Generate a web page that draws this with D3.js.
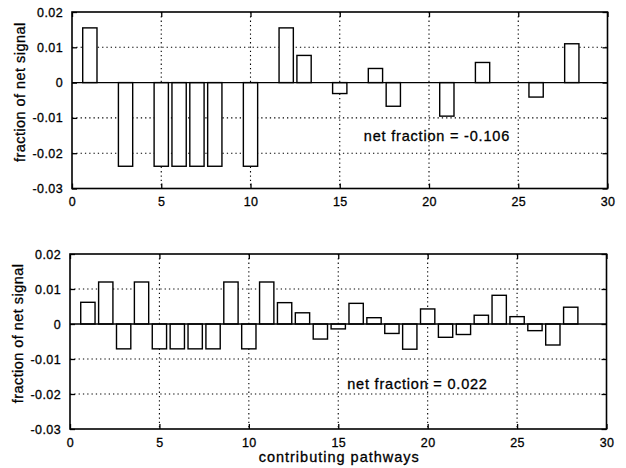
<!DOCTYPE html>
<html>
<head>
<meta charset="utf-8">
<script src="https://cdn.jsdelivr.net/npm/d3@7"></script>
<style>
  body { margin: 0; background: #fff; }
  svg { display: block; font-family: "Liberation Sans", Arial, Helvetica, sans-serif; }
  svg text { stroke: #000; stroke-width: 0.3px; }
</style>
</head>
<body>
<svg id="chart" width="626" height="468"></svg>
<script>
// pathway index 1..28
var pathways = d3.range(1, 29);

// top panel values (zero = no bar)
var topValues = [0.0155, 0, -0.0237, 0, -0.0237, -0.0237, -0.0237, -0.0237, 0, -0.0237,
                 0, 0.0155, 0.0077, 0, -0.0031, 0, 0.0040, -0.0067, 0, 0,
                 -0.0095, 0, 0.0057, 0, 0, -0.0041, 0, 0.0110];

// bottom panel values
var bottomValues = [0.0062, 0.0120, -0.0071, 0.0120, -0.0071, -0.0071, -0.0071, -0.0071, 0.0120, -0.0071,
                    0.0120, 0.0061, 0.0032, -0.0043, -0.0014, 0.0059, 0.0018, -0.0027, -0.0072, 0.0043,
                    -0.0038, -0.0030, 0.0025, 0.0082, 0.0021, -0.0019, -0.0060, 0.0048];

var xTicks = [0, 5, 10, 15, 20, 25, 30];
var yTicks = [-0.03, -0.02, -0.01, 0, 0.01, 0.02];
var yTickLabels = ["-0.03", "-0.02", "-0.01", "0", "0.01", "0.02"];
var netLabels = ["net fraction = -0.106", "net fraction = 0.022"];
var netPos = [[16.35, -0.0165], [15.5, -0.0186]];

var svg = d3.select("#chart");

var makePanel = function(values, box, netText, netAt, showXLabel) {
    var xS = d3.scaleLinear().domain([0, 30]).range([box.left, box.right]);
    var yS = d3.scaleLinear().domain([-0.03, 0.02]).range([box.bottom, box.top]);
    var g = svg.append("g");

    // dotted grid
    g.selectAll(".gx")
        .data(xTicks.filter(function(d) { return d > 0 && d < 30; }))
        .enter().append("line")
        .attr("x1", function(d) { return xS(d); })
        .attr("x2", function(d) { return xS(d); })
        .attr("y1", box.top).attr("y2", box.bottom)
        .attr("stroke", "#000").attr("stroke-width", 1.1)
        .attr("stroke-dasharray", "1.3,3");
    g.selectAll(".gy")
        .data(yTicks.filter(function(d) { return d > -0.03 && d < 0.02 && d !== 0; }))
        .enter().append("line")
        .attr("y1", function(d) { return yS(d); })
        .attr("y2", function(d) { return yS(d); })
        .attr("x1", box.left).attr("x2", box.right)
        .attr("stroke", "#000").attr("stroke-width", 1.1)
        .attr("stroke-dasharray", "1.3,3");

    // bars
    var bw = xS(0.8) - xS(0);
    g.selectAll(".bar")
        .data(values.map(function(v, i) { return {x: pathways[i], v: v}; })
            .filter(function(d) { return d.v !== 0; }))
        .enter().append("rect")
        .attr("x", function(d) { return xS(d.x) - bw / 2; })
        .attr("width", bw)
        .attr("y", function(d) { return d.v > 0 ? yS(d.v) : yS(0); })
        .attr("height", function(d) { return Math.abs(yS(d.v) - yS(0)); })
        .attr("fill", "#fff")
        .attr("stroke", "#000")
        .attr("stroke-width", 1.4);

    // zero line
    g.append("line")
        .attr("x1", box.left).attr("x2", box.right)
        .attr("y1", yS(0)).attr("y2", yS(0))
        .attr("stroke", "#000").attr("stroke-width", 1.4);

    // axes, ticks pointing inward
    var bottomAxis = d3.axisBottom(xS).tickValues(xTicks).tickSize(-5).tickPadding(9);
    var leftAxis = d3.axisLeft(yS).tickValues(yTicks).tickSize(-5).tickPadding(9)
        .tickFormat(function(d, i) { return yTickLabels[i]; });

    var ax = g.append("g").attr("transform", "translate(0," + box.bottom + ")").call(bottomAxis);
    var ay = g.append("g").attr("transform", "translate(" + box.left + ",0)").call(leftAxis);
    var axT = g.append("g").attr("transform", "translate(0," + box.top + ")")
        .call(d3.axisTop(xS).tickValues(xTicks).tickSize(-5).tickFormat(""));
    var ayR = g.append("g").attr("transform", "translate(" + box.right + ",0)")
        .call(d3.axisRight(yS).tickValues(yTicks).tickSize(-5).tickFormat(""));

    [ax, ay, axT, ayR].forEach(function(a) {
        a.select(".domain").remove();
        a.selectAll("line").attr("stroke", "#000").attr("stroke-width", 1.3);
        a.selectAll("text").attr("fill", "#000")
            .style("font-family", "\"Liberation Sans\", Arial, sans-serif")
            .style("font-size", "12.5px")
            .style("letter-spacing", "0.4px");
    });

    // frame
    g.append("rect")
        .attr("x", box.left).attr("y", box.top)
        .attr("width", box.right - box.left).attr("height", box.bottom - box.top)
        .attr("fill", "none").attr("stroke", "#000").attr("stroke-width", 1.6);

    // y label
    g.append("text")
        .attr("transform", "translate(" + (box.left - 47) + "," + ((box.top + box.bottom) / 2 - 8) + ") rotate(-90)")
        .attr("text-anchor", "middle")
        .style("font-size", "14.5px")
        .style("letter-spacing", "0.45px")
        .text("fraction of net signal");

    // net fraction annotation
    g.append("text")
        .attr("x", xS(netAt[0]))
        .attr("y", yS(netAt[1]))
        .style("font-size", "14.5px")
        .style("letter-spacing", "0.8px")
        .text(netText);

    if (showXLabel) {
        g.append("text")
            .attr("x", (box.left + box.right) / 2 + 1)
            .attr("y", 462)
            .attr("text-anchor", "middle")
            .style("font-size", "14.5px")
            .style("letter-spacing", "1px")
            .text("contributing pathways");
    }
};

makePanel(topValues, {left: 72, right: 607.5, top: 12, bottom: 188.5}, netLabels[0], netPos[0], false);
makePanel(bottomValues, {left: 70, right: 606.5, top: 254, bottom: 429}, netLabels[1], netPos[1], true);
</script>
</body>
</html>
